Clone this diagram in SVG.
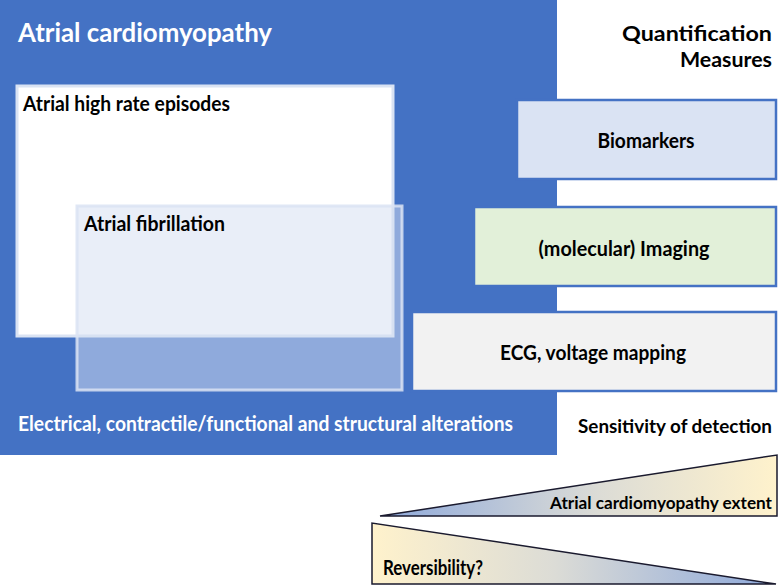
<svg xmlns="http://www.w3.org/2000/svg" width="779" height="585" viewBox="0 0 779 585">
  <style>
    .t { font-family: Lato, "Open Sans", "Liberation Sans", sans-serif; font-weight: bold; }
    .w { fill: #ffffff; }
    .k { fill: #000000; }
    .m { text-anchor: middle; }
    .e { text-anchor: end; }
    .meas { stroke: #4472C4; stroke-width: 2.5; }
    .tri { stroke: #1a1a2e; stroke-width: 1.5; stroke-linejoin: miter; }
  </style>
  <defs>
    <linearGradient id="gUp" x1="0" y1="0" x2="1" y2="0">
      <stop offset="0" stop-color="#8EA9DB"/>
      <stop offset="0.55" stop-color="#DCDCD6"/>
      <stop offset="1" stop-color="#FFF2CC"/>
    </linearGradient>
    <linearGradient id="gDown" x1="0" y1="0" x2="1" y2="0">
      <stop offset="0" stop-color="#FFF2CC"/>
      <stop offset="0.45" stop-color="#DCDCD6"/>
      <stop offset="1" stop-color="#8EA9DB"/>
    </linearGradient>
  </defs>

  <g id="atrial-cardiomyopathy">
    <rect x="0" y="0" width="557" height="455" fill="#4472C4"/>
    <text class="t w" x="18" y="42" font-size="27" textLength="254" lengthAdjust="spacingAndGlyphs">Atrial cardiomyopathy</text>
    <text class="t w" x="18" y="431" font-size="20" textLength="495" lengthAdjust="spacingAndGlyphs">Electrical, contractile/functional and structural alterations</text>
  </g>

  <g id="quantification-title">
    <text class="t k e" x="772" y="41" font-size="20" textLength="150" lengthAdjust="spacingAndGlyphs">Quantification</text>
    <text class="t k e" x="772" y="67" font-size="20" textLength="92" lengthAdjust="spacingAndGlyphs">Measures</text>
  </g>

  <g id="atrial-high-rate-episodes">
    <rect x="17" y="86" width="376" height="250" fill="#FFFFFF" stroke="#DAE3F3" stroke-width="3"/>
    <text class="t k" x="23" y="111" font-size="20" textLength="207" lengthAdjust="spacingAndGlyphs">Atrial high rate episodes</text>
  </g>

  <g id="atrial-fibrillation">
    <rect x="77" y="206" width="325" height="184" fill="#D5DEF2" fill-opacity="0.52" stroke="#DAE3F3" stroke-opacity="0.85" stroke-width="3"/>
    <text class="t k" x="84" y="231" font-size="20" textLength="141" lengthAdjust="spacingAndGlyphs">Atrial fibrillation</text>
  </g>

  <g id="biomarkers">
    <rect class="meas" x="517" y="100" width="259" height="79" fill="#DAE3F3"/>
    <text class="t k m" x="646" y="148" font-size="20" textLength="97" lengthAdjust="spacingAndGlyphs">Biomarkers</text>
  </g>

  <g id="imaging">
    <rect class="meas" x="474" y="207" width="302" height="79" fill="#E2F0D9"/>
    <text class="t k m" x="624" y="256" font-size="20" textLength="171" lengthAdjust="spacingAndGlyphs">(molecular) Imaging</text>
  </g>

  <g id="ecg">
    <rect class="meas" x="412" y="312" width="364" height="79" fill="#F2F2F2"/>
    <text class="t k m" x="593" y="360" font-size="20" textLength="186" lengthAdjust="spacingAndGlyphs">ECG, voltage mapping</text>
  </g>

  <g id="sensitivity">
    <text class="t k e" x="772" y="433" font-size="18" textLength="194" lengthAdjust="spacingAndGlyphs">Sensitivity of detection</text>
  </g>

  <g id="extent-wedge">
    <polygon class="tri" points="380,516 777,455 777,516" fill="url(#gUp)"/>
    <text class="t k e" x="772" y="509" font-size="17" textLength="222" lengthAdjust="spacingAndGlyphs">Atrial cardiomyopathy extent</text>
  </g>

  <g id="reversibility-wedge">
    <polygon class="tri" points="372,523 372,584 776,584" fill="url(#gDown)"/>
    <text class="t k" x="383" y="575" font-size="20" textLength="100" lengthAdjust="spacingAndGlyphs">Reversibility?</text>
  </g>

  <g id="connectors"/>
</svg>
